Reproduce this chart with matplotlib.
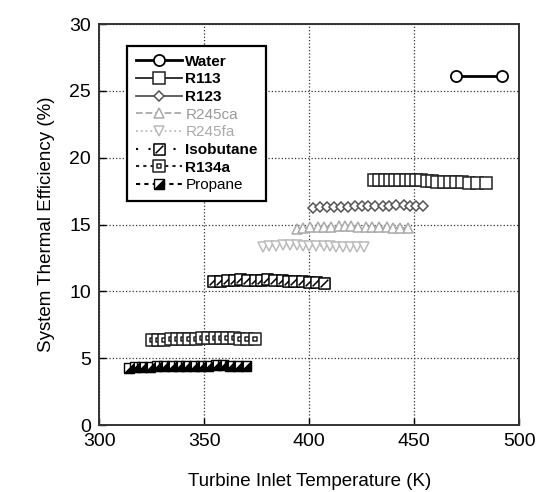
import matplotlib
matplotlib.use("Agg")
import matplotlib.pyplot as plt
from matplotlib.path import Path
from matplotlib.legend_handler import HandlerTuple

plt.rcParams['font.family'] = ['Liberation Sans', 'DejaVu Sans']

# data (Turbine inlet temperature K, efficiency %)
water_x = [470, 492]
water_y = [26.1, 26.1]

r113_x = [431, 433.5, 436, 438.5, 441, 443.5, 446, 448.5, 451, 453.5,
          456, 458.5, 461, 464, 467, 470, 473, 476, 480, 484]
r113_y = [18.3, 18.3, 18.3, 18.3, 18.3, 18.3, 18.3, 18.3, 18.3, 18.3,
          18.28, 18.25, 18.2, 18.2, 18.18, 18.15, 18.15, 18.12, 18.1, 18.1]

r123_x = [402, 405, 408.5, 412, 415, 418.5, 422, 425, 428, 431.5,
          435, 438, 441.5, 445, 448, 451, 454]
r123_y = [16.25, 16.28, 16.3, 16.32, 16.35, 16.35, 16.38, 16.4, 16.42, 16.42,
          16.4, 16.42, 16.45, 16.45, 16.42, 16.4, 16.4]

r245ca_x = [394, 397, 400.5, 404, 407, 410.5, 414, 417, 420, 423.5,
            427, 430, 433.5, 437, 440, 443.5, 447]
r245ca_y = [14.7, 14.75, 14.8, 14.85, 14.85, 14.85, 14.9, 14.9, 14.88, 14.85,
            14.85, 14.82, 14.8, 14.8, 14.78, 14.75, 14.75]

r245fa_x = [378, 381, 384, 387.5, 391, 394, 397, 400, 403.5, 407,
            410, 413, 416, 419.5, 423, 426]
r245fa_y = [13.35, 13.4, 13.42, 13.45, 13.45, 13.45, 13.42, 13.4, 13.4, 13.38,
            13.38, 13.35, 13.35, 13.35, 13.35, 13.35]

isobutane_x = [354, 357.5, 361, 364, 367, 370.5, 374, 377, 380, 383.5,
               387, 390, 393, 396.5, 400, 403.5, 407]
isobutane_y = [10.75, 10.8, 10.85, 10.85, 10.9, 10.88, 10.85, 10.88, 10.9, 10.85,
               10.82, 10.8, 10.78, 10.75, 10.72, 10.7, 10.65]

r134a_x = [325, 328, 331, 334, 337, 340, 343, 346, 349, 352,
           355, 358, 361, 364, 367, 370.5, 374]
r134a_y = [6.35, 6.38, 6.4, 6.42, 6.43, 6.45, 6.46, 6.47, 6.5, 6.52,
           6.55, 6.52, 6.5, 6.48, 6.46, 6.45, 6.45]

propane_x = [314, 317, 320.5, 324, 327.5, 331, 334.5, 338, 341.5, 345,
             348.5, 352, 355.5, 359, 362.5, 366, 370]
propane_y = [4.3, 4.32, 4.35, 4.38, 4.4, 4.4, 4.42, 4.44, 4.45, 4.43,
             4.42, 4.44, 4.46, 4.46, 4.44, 4.42, 4.45]

# custom markers
sq = [(-1, -1), (1, -1), (1, 1), (-1, 1), (-1, -1)]
sq_codes = [Path.MOVETO, Path.LINETO, Path.LINETO, Path.LINETO, Path.CLOSEPOLY]
slash_sq = Path(sq + [(-0.7, -0.7), (0.7, 0.7)],
                sq_codes + [Path.MOVETO, Path.LINETO])
dot_sq = Path(sq + [(-0.3, -0.3), (0.3, -0.3), (0.3, 0.3), (-0.3, 0.3), (-0.3, -0.3)],
              sq_codes + sq_codes)
half_tri = Path([(-1, -1), (1, -1), (1, 1), (-1, -1)],
                [Path.MOVETO, Path.LINETO, Path.LINETO, Path.CLOSEPOLY])

fig = plt.figure(figsize=(5.57, 4.92), dpi=100)
ax = fig.add_axes([0.178, 0.136, 0.754, 0.815])

h_water, = ax.plot(water_x, water_y, '-', color='black', lw=2,
                   marker='o', ms=8, mfc='white', mec='black', mew=1.3)
h_r113, = ax.plot(r113_x, r113_y, '-', color='#222222', lw=1.3,
                  marker='s', ms=8, mfc='white', mec='#222222', mew=1.1)
h_r123, = ax.plot(r123_x, r123_y, '-', color='#555555', lw=1.3,
                  marker='D', ms=5.5, mfc='white', mec='#555555', mew=1.1)
h_r245ca, = ax.plot(r245ca_x, r245ca_y, '--', color='#aaaaaa', lw=1.3,
                    marker='^', ms=7, mfc='white', mec='#aaaaaa', mew=1.1)
h_r245fa, = ax.plot(r245fa_x, r245fa_y, ':', color='#bbbbbb', lw=1.3,
                    marker='v', ms=7, mfc='white', mec='#bbbbbb', mew=1.1)
h_iso, = ax.plot(isobutane_x, isobutane_y, linestyle=(0, (1, 5)), color='black', lw=1.5,
                 marker=slash_sq, ms=8, mfc='white', mec='black', mew=1.1)
h_r134a, = ax.plot(r134a_x, r134a_y, linestyle=(0, (1.5, 2)), color='#222222', lw=1.5,
                   marker=dot_sq, ms=8, mfc='white', mec='#222222', mew=1.1)
h_prop, = ax.plot(propane_x, propane_y, linestyle=(0, (2, 2)), color='black', lw=1.5,
                  marker='s', ms=7, mfc='white', mec='black', mew=1.0)
h_prop2, = ax.plot(propane_x, propane_y, linestyle='none', color='black',
                   marker=half_tri, ms=7, mfc='black', mec='black', mew=0.8)

ax.set_xlim(300, 500)
ax.set_ylim(0, 30)
ax.set_xticks([300, 350, 400, 450, 500])
ax.set_yticks([0, 5, 10, 15, 20, 25, 30])
ax.grid(True, linestyle=':', color='#333333', lw=0.9)
ax.tick_params(direction='in', length=5, width=1, labelsize=14, pad=6)
for s in ax.spines.values():
    s.set_linewidth(1.4)
    s.set_color('#333333')

ax.set_xlabel('Turbine Inlet Temperature (K)', fontsize=13.5, labelpad=16)
ax.set_ylabel('System Thermal Efficiency (%)', fontsize=13.5, labelpad=10)

handles = [h_water, h_r113, h_r123, h_r245ca, h_r245fa, h_iso, h_r134a, (h_prop, h_prop2)]
labels = ['Water', 'R113', 'R123', 'R245ca', 'R245fa', 'Isobutane', 'R134a', 'Propane']
leg = ax.legend(handles, labels, loc='upper left', bbox_to_anchor=(0.067, 0.945),
                handler_map={tuple: HandlerTuple(ndivide=1)},
                fontsize=11, handlelength=3.0, handletextpad=0.25, labelspacing=0.24,
                borderpad=0.55, fancybox=False, framealpha=1, edgecolor='black',
                borderaxespad=0)
leg.get_frame().set_linewidth(1.6)
for t, c, w in zip(leg.get_texts(),
                   ['black', 'black', 'black', '#999999', '#aaaaaa', 'black', 'black', 'black'],
                   ['bold', 'bold', 'bold', 'normal', 'normal', 'bold', 'bold', 'normal']):
    t.set_color(c)
    t.set_fontweight(w)

fig.savefig('out.png', dpi=100)
